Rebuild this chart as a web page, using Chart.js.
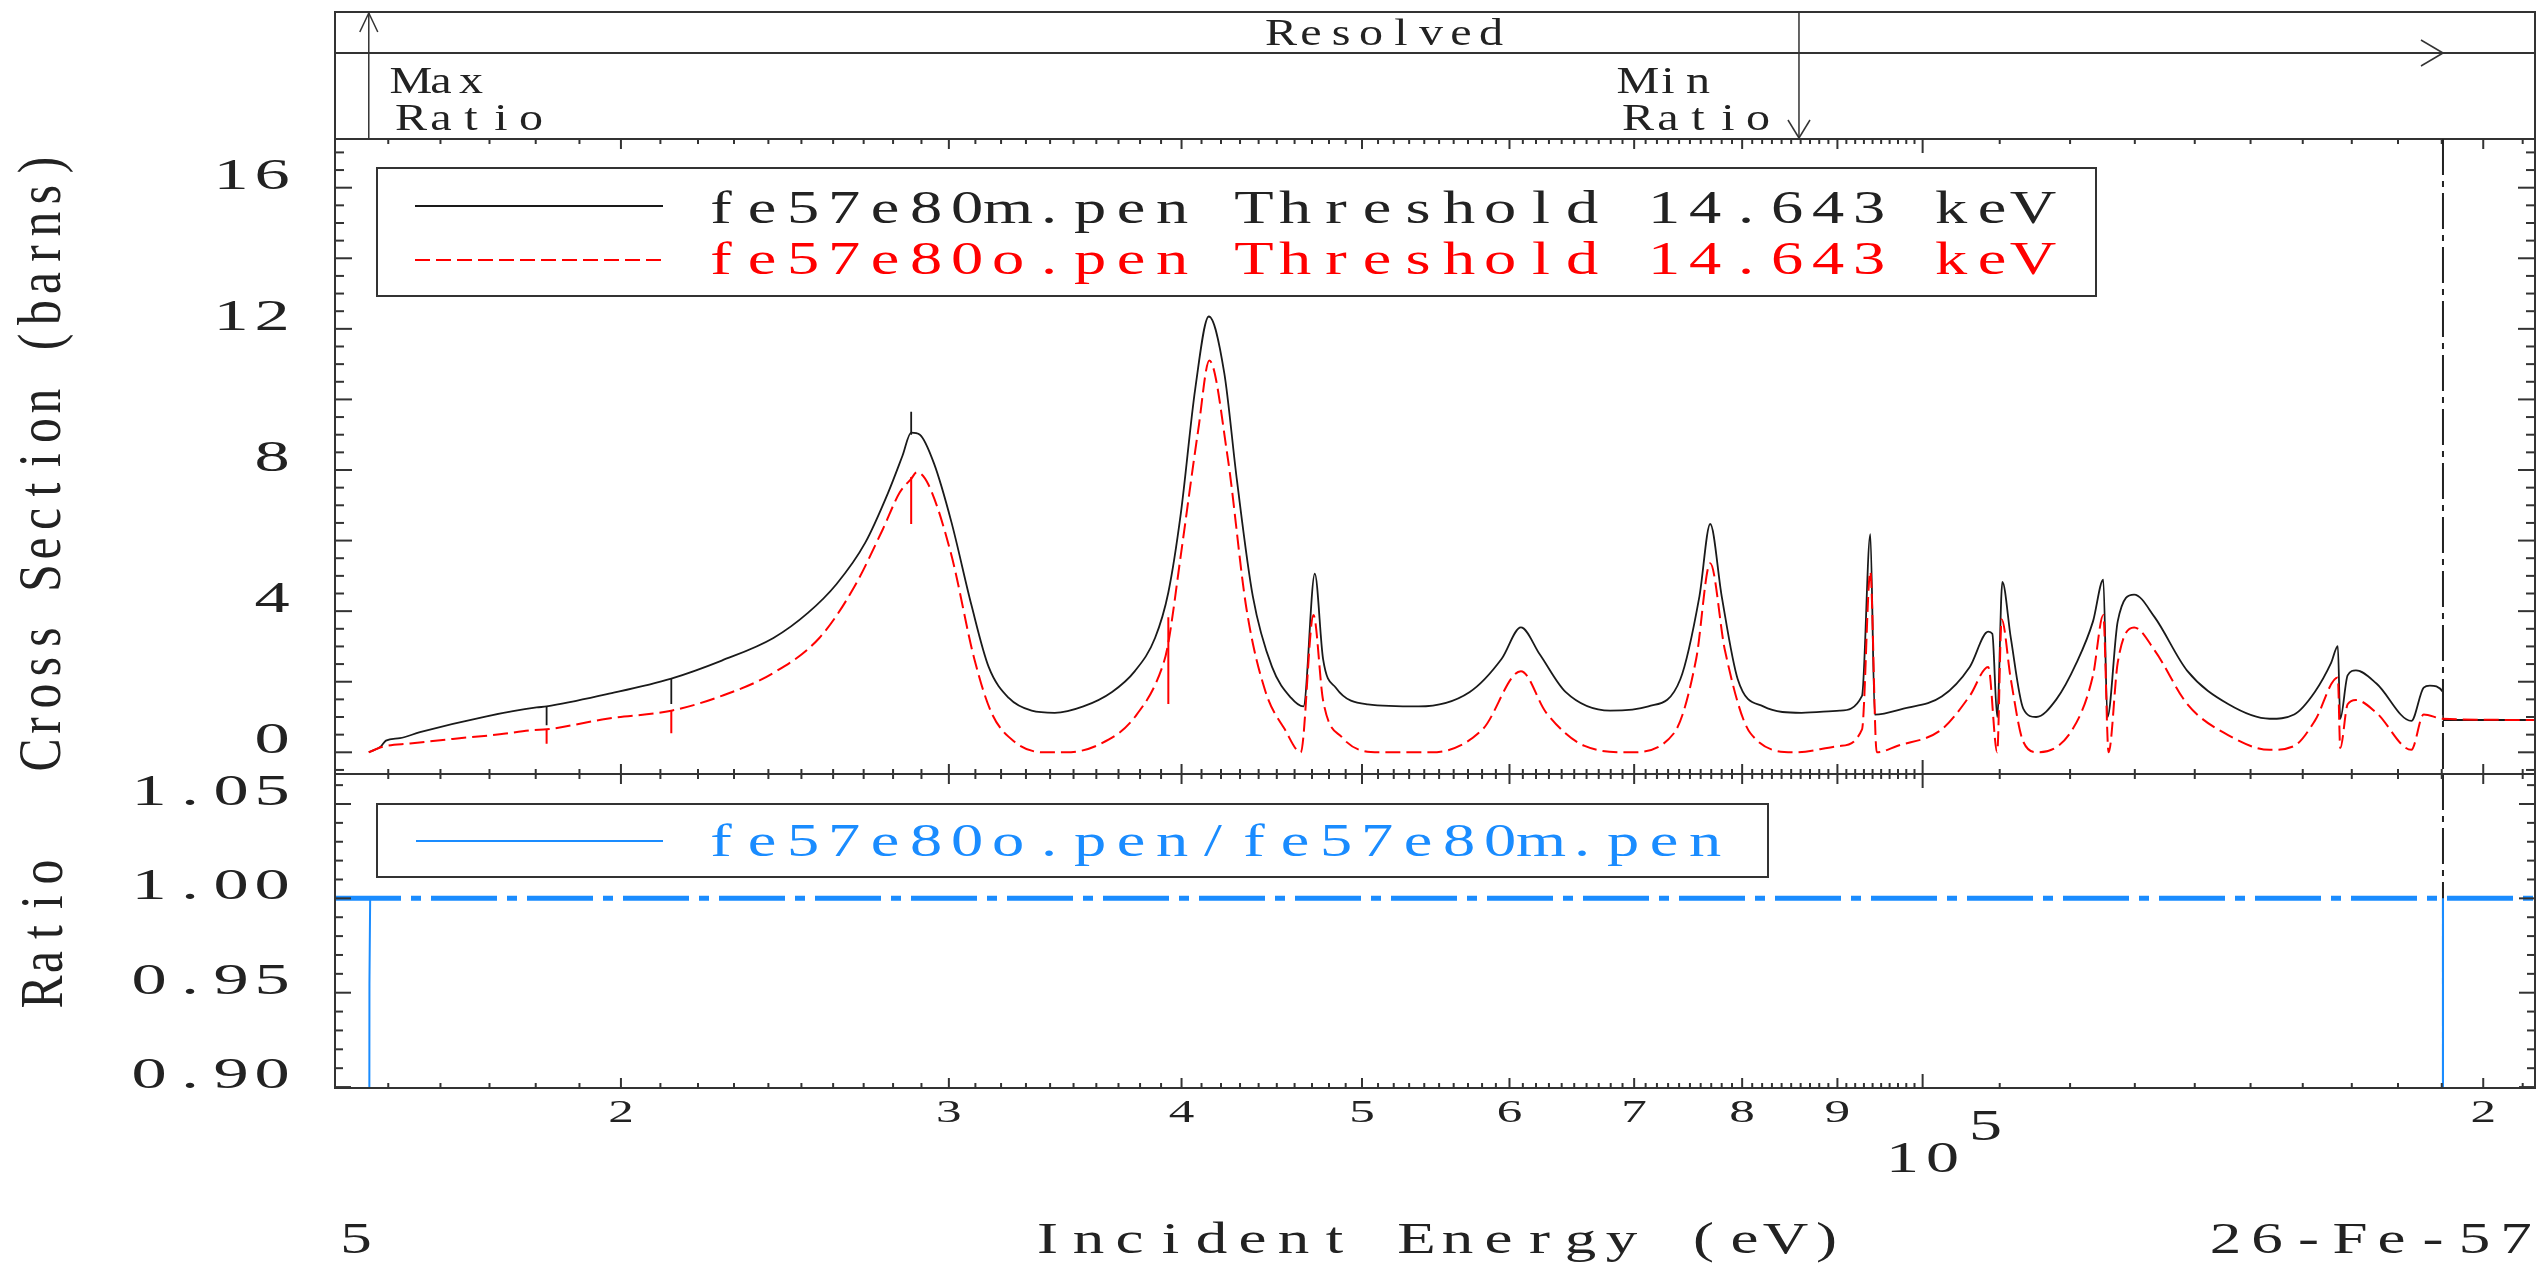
<!DOCTYPE html>
<html>
<head>
<meta charset="utf-8">
<title>26-Fe-57 cross section comparison</title>
<script src="https://cdn.jsdelivr.net/npm/chart.js@4.4.1/dist/chart.umd.min.js"></script>
<style>
  html, body { margin: 0; padding: 0; background: #fff; }
  #wrap { position: relative; width: 2544px; height: 1263px; }
  #wrap canvas { position: absolute; left: 0; top: 0; }
</style>
</head>
<body>
<div id="wrap">
  <canvas id="main" width="2544" height="1263"></canvas>
  <canvas id="ratio" width="2544" height="1263"></canvas>
</div>
<script>
/* global Chart */

// incident energy (eV) and cross section (barns)
const blackE = [14643, 14860, 14957, 15218, 15600, 16940, 18020, 18244, 19658, 21285,
  22656, 24150, 25202, 26112, 27054, 27831, 28331, 28634, 28944, 29456, 30093, 30846, 31513, 32306,
  33233, 34192, 35427, 36707, 37756, 38710, 39352, 39965, 40683, 41372, 42167, 42835, 43686, 44735, 45804, 46506,
  47166, 47648, 48408, 50355, 53632, 57127, 59426, 60853, 62299, 64305, 67954, 71246, 74112, 75884, 76904, 78004,
  79564, 82115, 86089, 90257, 92780, 93738, 94260, 97665, 102390, 106000, 108450, 109000, 109660, 110360, 111520,
  113250, 115060, 117980, 120970, 123450, 125030, 125670, 127280, 129890, 133220, 138750, 145970, 153570, 158310,
  162400, 165730, 167090, 167590, 169130, 170870, 175260, 182990, 185800, 187230, 190290, 190300, 213220];
const blackXS = [0, 0.16, 0.33, 0.40, 0.57, 1.02, 1.27, 1.30, 1.65, 2.09,
  2.60, 3.24, 3.95, 4.77, 5.94, 7.36, 8.41, 9.06, 9.0, 8.18, 6.53, 4.18, 2.42, 1.54,
  1.18, 1.12, 1.30, 1.71, 2.30, 3.24, 4.53, 6.77, 10.3, 12.35, 10.76, 7.71, 4.42, 2.42, 1.54, 1.30,
  5.06, 2.65, 1.83, 1.36, 1.30, 1.71, 2.65, 3.54, 2.77, 1.71, 1.18, 1.30, 2.07, 4.42, 6.47, 4.42,
  2.07, 1.30, 1.12, 1.18, 1.60, 6.18, 1.07, 1.24, 1.58, 2.42, 3.42, 3.36, 1.0, 4.83, 3.24,
  1.24, 1.0, 1.50, 2.54, 3.71, 4.89, 1.0, 3.71, 4.47, 3.83, 2.30, 1.36, 0.95, 1.07,
  1.71, 2.54, 3.01, 0.95, 2.18, 2.32, 1.95, 0.89, 1.83, 1.89, 1.71, 0.915, 0.915];

const redE = [14643, 14902, 15408, 16246, 17217, 17934, 18244, 19658, 21285, 22656,
  24150, 25560, 26672, 27636, 28230, 28634, 28837, 29250, 30093, 30957, 31624, 32534, 33709, 34682,
  36189, 37756, 39128, 39352, 39965, 40830, 41400, 42335, 43346, 44381, 45448, 46351, 47085, 47648,
  48786, 51153, 54482, 58038, 60853, 62794, 65840, 69574, 73527, 75583, 76904, 78314, 80826, 85421, 90257, 92780,
  93738, 94481, 96896, 102390, 106000, 108450, 109660, 110260, 111520, 113250, 115270, 120360, 123450, 125030,
  125850, 127280, 129890, 133220, 138750, 145970, 153570, 158310, 162400, 167090, 167590, 169130, 170870, 175260,
  182990, 185800, 190290, 213220];
const redXS = [0, 0.16, 0.25, 0.38, 0.51, 0.63, 0.65, 0.95, 1.18, 1.60,
  2.25, 3.24, 4.66, 6.30, 7.36, 7.75, 7.94, 7.59, 5.59, 2.65, 1.12, 0.30, 0.0, 0.0,
  0.24, 1.0, 2.54, 3.10, 5.59, 9.12, 11.1, 8.41, 4.06, 1.71, 0.65, 0.0, 3.89, 1.48,
  0.42, 0.0, 0.0, 0.65, 2.30, 1.12, 0.18, 0.0, 0.54, 2.65, 5.36, 2.89, 0.54, 0.0, 0.18, 0.65,
  5.12, 0.0, 0.18, 0.65, 1.60, 2.42, 0.0, 3.77, 2.07, 0.30, 0.0, 0.65, 2.18, 3.89,
  0.0, 2.54, 3.54, 2.89, 1.36, 0.48, 0.07, 0.18, 0.89, 2.12, 0.12, 1.36, 1.48, 1.12,
  0.07, 1.07, 0.95, 0.915];

// short vertical spikes on the curves: energy, from, to (barns)
const blackSpikeE = [18244, 21285, 28634];
const blackSpikeFrom = [1.30, 2.09, 9.0];
const blackSpikeTo = [0.77, 1.37, 9.65];
const redSpikeE = [18244, 21285, 28634, 39352];
const redSpikeFrom = [0.65, 1.18, 7.8, 3.83];
const redSpikeTo = [0.24, 0.54, 6.47, 1.37];

// ratio fe57e80o / fe57e80m: thin drops where it leaves 1 (null = break), thick dash-dot at unity
const ratioE = [14643, 14655, 14668, 14700, 190200, 190280, 190290, 190300, 190400];
const ratioV = [0.5, 0.955, 1.0, null, null, 1.0, 0.5, 1.0, null];
const unityE = [14044, 213220];
const unityV = [1.0, 1.0];

const xMin = 14044;
const xMax = 213220;
const maxRatioE = 14643;
const minRatioE = 85823;
const resolvedEnd = 190290;

const yMainTicks = [0, 4, 8, 12, 16];
const yMainLabels = ['0', '4', '8', '12', '16'];
const yRatioTicks = [0.90, 0.95, 1.00, 1.05];
const yRatioLabels = ['0.90', '0.95', '1.00', '1.05'];
const xTickVals = [20000, 30000, 40000, 50000, 60000, 70000, 80000, 90000, 200000];
const xTickLabels = ['2', '3', '4', '5', '6', '7', '8', '9', '2'];

// page geometry
const L = 335, R = 2535, BOX_TOP = 12, BOX_MID = 53, TOP = 139, MID = 774, BOT = 1088;
const INK = '#333';
const BLUE = '#1a8cff';

const toXY = (xs, ys) => xs.map((x, i) => ({ x: x, y: ys[i] }));
const toSpikes = (es, from, to) => es.flatMap((e, i) => [{ x: e, y: from[i] }, { x: e, y: to[i] }, { x: e, y: null }]);

function seg(ctx, x1, y1, x2, y2) {
  ctx.beginPath();
  ctx.moveTo(x1, y1);
  ctx.lineTo(x2, y2);
  ctx.stroke();
}

// fixed pitch text, one glyph per cell
function mono(ctx, str, x, y, o) {
  const pitch = o.pitch || 41;
  const n = str.length;
  let start = 0;
  if (o.align === 'center') start = -(n - 1) * pitch / 2;
  if (o.align === 'right') start = -(n - 1) * pitch;
  ctx.save();
  ctx.translate(x, y);
  if (o.rot) ctx.rotate(o.rot);
  ctx.font = (o.size || 44) + 'px "Liberation Serif"';
  ctx.fillStyle = o.color || '#222';
  ctx.textAlign = 'center';
  ctx.textBaseline = 'alphabetic';
  for (let i = 0; i < n; i++) {
    if (str[i] === ' ') continue;
    ctx.save();
    ctx.translate(start + i * pitch, 0);
    ctx.scale(o.sx || 1.4, 1);
    ctx.fillText(str[i], 0, 0);
    ctx.restore();
  }
  ctx.restore();
}

function xTicks(ctx, xs, y, dir) {
  for (let e = 15000; e <= 210000; e += (e < 100000 ? 1000 : 10000)) {
    const rest = e < 100000 ? e % 10000 : e % 100000;
    const len = e === 100000 ? 14 : (rest === 0 ? 10 : 5);
    const px = xs.getPixelForValue(e);
    seg(ctx, px, y, px, y + dir * len);
  }
}

function yTicks(ctx, ys, k0, k1, div, every, shortLen, longLen) {
  for (let k = k0; k <= k1; k++) {
    const py = ys.getPixelForValue(k / div);
    const len = k % every === 0 ? longLen : shortLen;
    seg(ctx, L, py, L + len, py);
    seg(ctx, R, py, R - len, py);
  }
}

const mainDecor = {
  id: 'mainDecor',
  beforeDraw(chart) {
    const c = chart.ctx;
    c.save();
    c.fillStyle = '#fff';
    c.fillRect(0, 0, chart.width, chart.height);
    c.restore();
  },
  afterDraw(chart) {
    const ctx = chart.ctx, xs = chart.scales.x, ys = chart.scales.y;
    ctx.save();
    ctx.strokeStyle = INK;
    ctx.lineWidth = 2;

    // resolved range box
    ctx.strokeRect(L, BOX_TOP, R - L, TOP - BOX_TOP);
    seg(ctx, L, BOX_MID, R, BOX_MID);
    const xa = xs.getPixelForValue(maxRatioE);
    const xb = xs.getPixelForValue(minRatioE);
    const xc = xs.getPixelForValue(resolvedEnd);
    ctx.lineWidth = 1.5;
    seg(ctx, xa, BOX_TOP, xa, TOP);
    seg(ctx, xa - 9, BOX_TOP + 20, xa, BOX_TOP + 1);
    seg(ctx, xa + 9, BOX_TOP + 20, xa, BOX_TOP + 1);
    seg(ctx, xb, BOX_TOP, xb, TOP);
    seg(ctx, xb - 11, TOP - 19, xb, TOP - 1);
    seg(ctx, xb + 11, TOP - 19, xb, TOP - 1);
    seg(ctx, xc - 22, BOX_MID - 13, xc, BOX_MID);
    seg(ctx, xc - 22, BOX_MID + 13, xc, BOX_MID);
    const small = { size: 37, pitch: 30, sx: 1.3 };
    mono(ctx, 'Resolved', 1386, 45, Object.assign({ align: 'center' }, small));
    mono(ctx, 'Max', 411, 93, small);
    mono(ctx, 'Ratio', 411, 130, small);
    mono(ctx, 'Min', 1638, 93, small);
    mono(ctx, 'Ratio', 1638, 130, small);

    // main frame and ticks
    ctx.lineWidth = 2;
    ctx.strokeRect(L, TOP, R - L, MID - TOP);
    xTicks(ctx, xs, TOP, 1);
    xTicks(ctx, xs, MID, -1);
    yTicks(ctx, ys, -1, 34, 2, 4, 9, 17);

    // end of resolved range
    ctx.strokeStyle = '#222';
    ctx.setLineDash([36, 6, 6, 6]);
    seg(ctx, xc, TOP, xc, MID);
    ctx.setLineDash([]);

    // legend
    ctx.strokeStyle = INK;
    ctx.strokeRect(377, 168, 1719, 128);
    ctx.strokeStyle = '#1a1a1a';
    seg(ctx, 415, 206, 663, 206);
    ctx.strokeStyle = '#ff0000';
    ctx.setLineDash([15, 6]);
    seg(ctx, 415, 260, 663, 260);
    ctx.setLineDash([]);
    mono(ctx, 'fe57e80m.pen Threshold 14.643 keV', 721, 223, { size: 46, sx: 1.4 });
    mono(ctx, 'fe57e80o.pen Threshold 14.643 keV', 721, 274, { size: 46, sx: 1.4, color: '#ff0000' });

    // y labels and title
    yMainTicks.forEach((v, i) => {
      mono(ctx, yMainLabels[i], 272, ys.getPixelForValue(v) + 1, { align: 'right', size: 44, sx: 1.6 });
    });
    mono(ctx, 'Cross Section (barns)', 60, 460, { rot: -Math.PI / 2, align: 'center', pitch: 29.5, size: 62, sx: 0.8 });

    // x labels and title
    xTickVals.forEach((v, i) => {
      mono(ctx, xTickLabels[i], xs.getPixelForValue(v), 1122, { size: 32, sx: 1.6 });
    });
    const x5 = xs.getPixelForValue(100000);
    mono(ctx, '10', x5, 1172, { align: 'center', pitch: 40, size: 44, sx: 1.5 });
    mono(ctx, '5', x5 + 63, 1140, { size: 44, sx: 1.5 });
    mono(ctx, 'Incident Energy (eV)', 1437, 1253, { align: 'center', size: 45, sx: 1.4 });
    mono(ctx, '5', 356, 1253, { size: 45, sx: 1.4 });
    mono(ctx, '26-Fe-57', 2516, 1253, { align: 'right', pitch: 41.5, size: 45, sx: 1.4 });
    ctx.restore();
  }
};

const ratioDecor = {
  id: 'ratioDecor',
  beforeDatasetsDraw(chart) {
    const ctx = chart.ctx, xs = chart.scales.x;
    const xc = xs.getPixelForValue(resolvedEnd);
    ctx.save();
    ctx.strokeStyle = '#222';
    ctx.lineWidth = 2;
    ctx.setLineDash([36, 6, 6, 6]);
    seg(ctx, xc, MID, xc, BOT);
    ctx.restore();
  },
  afterDraw(chart) {
    const ctx = chart.ctx, xs = chart.scales.x, ys = chart.scales.y;
    ctx.save();
    ctx.strokeStyle = INK;
    ctx.lineWidth = 2;
    ctx.strokeRect(L, MID, R - L, BOT - MID);
    xTicks(ctx, xs, MID, 1);
    xTicks(ctx, xs, BOT, -1);
    yTicks(ctx, ys, 90, 106, 100, 5, 8, 16);

    // legend
    ctx.strokeRect(377, 804, 1391, 73);
    ctx.strokeStyle = BLUE;
    seg(ctx, 416, 841, 663, 841);
    mono(ctx, 'fe57e80o.pen/fe57e80m.pen', 721, 856, { size: 46, sx: 1.4, color: BLUE });

    yRatioTicks.forEach((v, i) => {
      mono(ctx, yRatioLabels[i], 272, ys.getPixelForValue(v) + 1, { align: 'right', size: 44, sx: 1.6 });
    });
    mono(ctx, 'Ratio', 62, 932, { rot: -Math.PI / 2, align: 'center', pitch: 30, size: 62, sx: 0.8 });
    ctx.restore();
  }
};

const baseOptions = (pad, yMin, yMax) => ({
  responsive: false,
  animation: false,
  devicePixelRatio: 1,
  events: [],
  spanGaps: false,
  layout: { padding: pad },
  elements: { point: { radius: 0 }, line: { fill: false, cubicInterpolationMode: 'monotone' } },
  plugins: { legend: { display: false }, tooltip: { enabled: false } },
  scales: {
    x: { type: 'logarithmic', min: xMin, max: xMax, display: false },
    y: { type: 'linear', min: yMin, max: yMax, display: false }
  }
});

const straight = { cubicInterpolationMode: 'default', tension: 0 };

// eslint-disable-next-line no-unused-vars
const mainChart = new Chart(document.getElementById('main'), {
  type: 'line',
  data: {
    datasets: [{
      label: 'fe57e80o.pen',
      data: toXY(redE, redXS),
      borderColor: '#ff0000',
      borderWidth: 2,
      borderDash: [15, 6],
      order: 0
    }, Object.assign({
      label: 'fe57e80o.pen spikes',
      data: toSpikes(redSpikeE, redSpikeFrom, redSpikeTo),
      borderColor: '#ff0000',
      borderWidth: 2,
      order: 0
    }, straight), {
      label: 'fe57e80m.pen',
      data: toXY(blackE, blackXS),
      borderColor: '#1a1a1a',
      borderWidth: 1.8,
      order: 1
    }, Object.assign({
      label: 'fe57e80m.pen spikes',
      data: toSpikes(blackSpikeE, blackSpikeFrom, blackSpikeTo),
      borderColor: '#1a1a1a',
      borderWidth: 1.8,
      order: 1
    }, straight)]
  },
  options: baseOptions({ left: L, right: 2544 - R, top: TOP, bottom: 1263 - MID }, -0.615, 17.38),
  plugins: [mainDecor]
});

// eslint-disable-next-line no-unused-vars
const ratioChart = new Chart(document.getElementById('ratio'), {
  type: 'line',
  data: {
    datasets: [Object.assign({
      label: 'fe57e80o.pen/fe57e80m.pen',
      data: toXY(ratioE, ratioV),
      borderColor: BLUE,
      borderWidth: 2,
      order: 0
    }, straight), {
      label: 'unity',
      data: toXY(unityE, unityV),
      borderColor: BLUE,
      borderWidth: 5,
      borderDash: [66, 10, 10, 10],
      order: 1
    }]
  },
  options: baseOptions({ left: L, right: 2544 - R, top: MID, bottom: 1263 - BOT }, 0.8995, 1.0659),
  plugins: [ratioDecor]
});
</script>
</body>
</html>
